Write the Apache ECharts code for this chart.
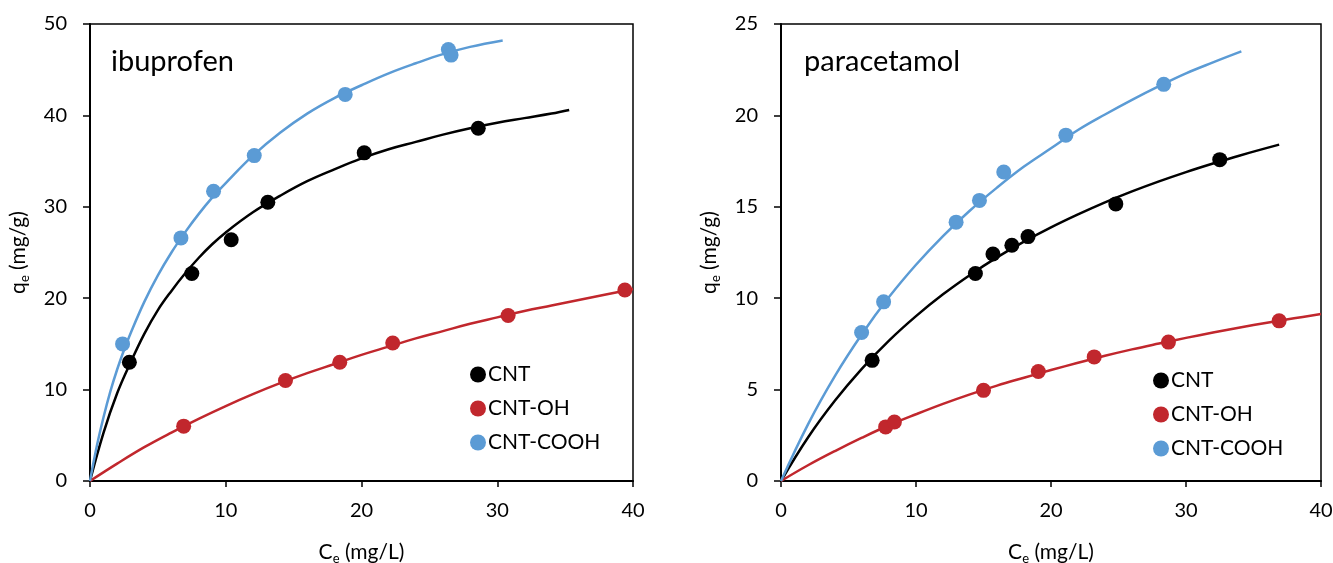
<!DOCTYPE html>
<html><head><meta charset="utf-8">
<script src="https://cdn.jsdelivr.net/npm/echarts@6/dist/echarts.min.js"></script>
<style>html,body{margin:0;padding:0;background:#fff}#c{width:1333px;height:563px}</style>
</head><body><div id="c"></div>
<script>
// ---- data ----
const xTicks = [0, 10, 20, 30, 40];
const ibuCNT = [[2.9,13.0],[7.5,22.7],[10.4,26.4],[13.1,30.5],[20.2,35.9],[28.6,38.6]];
const ibuOH = [[6.9,6.0],[14.4,11.0],[18.4,13.0],[22.3,15.1],[30.8,18.1],[39.4,20.9]];
const ibuCOOH = [[2.4,15.0],[6.7,26.6],[9.1,31.7],[12.1,35.6],[18.8,42.3],[26.4,47.2],[26.6,46.6]];
const ibuCNTfit = [[0,0],[1,5.3],[2,9.6],[3,13.0],[4,16.1],[5,18.7],[6,20.8],[7,22.7],[8,24.4],[9,25.9],[10,27.2],[12,29.4],[14,31.2],[16,32.8],[18,34.1],[20,35.3],[22,36.3],[24,37.1],[26,37.9],[28,38.6],[30,39.2],[32,39.7],[34,40.2],[35.3,40.6]];
const ibuCOOHfit = [[0,0],[0.5,3.8],[1,7.0],[1.5,9.8],[2,12.2],[2.5,14.3],[3,16.2],[4,19.6],[5,22.5],[6,25.0],[7,27.2],[8,29.2],[9,31.0],[10,32.6],[12,35.6],[14,38.1],[16,40.2],[18,41.9],[20,43.3],[22,44.6],[24,45.7],[26,46.7],[28,47.5],[30.4,48.2]];
const ibuOHfit = [[0,0],[2,1.9],[4,3.7],[6,5.3],[8,6.8],[10,8.2],[12,9.5],[14,10.7],[16,11.8],[18,12.8],[20,13.8],[22,14.7],[24,15.6],[26,16.4],[28,17.2],[30,17.9],[32,18.6],[34,19.2],[36,19.8],[38,20.4],[40,21.0]];

const paraCNT = [[6.75,6.6],[14.4,11.35],[15.7,12.42],[17.1,12.9],[18.3,13.37],[24.8,15.16],[32.5,17.58]];
const paraOH = [[7.75,2.96],[8.4,3.23],[15.0,4.96],[19.06,5.99],[23.2,6.79],[28.7,7.6],[36.9,8.76]];
const paraCOOH = [[5.97,8.12],[7.6,9.8],[12.97,14.16],[14.7,15.35],[16.5,16.9],[21.1,18.92],[28.35,21.7]];
const paraCNTfit = [[0,0],[2,2.38],[4,4.4],[6,6.15],[8,7.68],[10,9.02],[12,10.21],[14,11.27],[16,12.23],[18,13.09],[20,13.87],[22,14.58],[24,15.24],[26,15.84],[28,16.39],[30,16.9],[32,17.37],[34,17.81],[36.9,18.4]];
const paraCOOHfit = [[0,0],[2,3.1],[4,5.75],[6,8.04],[8,10.06],[10,11.83],[12,13.4],[14,14.8],[16,16.05],[18,17.2],[20,18.2],[22,19.2],[24,20.05],[26,20.85],[28,21.6],[30,22.3],[32,22.9],[34.1,23.5]];
const paraOHfit = [[0,0],[2,0.86],[4,1.64],[6,2.37],[8,3.05],[10,3.65],[12,4.22],[14,4.74],[16,5.22],[18,5.65],[20,6.07],[22,6.47],[24,6.85],[26,7.2],[28,7.52],[30,7.83],[32,8.12],[34,8.4],[36,8.66],[38,8.9],[40,9.13]];

const names = ['CNT', 'CNT-OH', 'CNT-COOH'];
const colors = ['#000000', '#C1272D', '#5B9BD5'];
const titles = ['ibuprofen', 'paracetamol'];
// -------------------------------------

const FONT = 'Lato';
const chart = echarts.init(document.getElementById('c'));
const nameRich = { a: { fontSize: 21, fontFamily: FONT, color: '#000' }, s: { fontSize: 13, fontFamily: FONT, color: '#000', padding: [13, 0, 0, 0] } };

function xAxis(gi) {
  return {
    type: 'value', gridIndex: gi, min: 0, max: 40, interval: 10,
    name: '{a|C}{s|e}{a| (mg/L)}', nameLocation: 'middle', nameGap: 58,
    nameTextStyle: { rich: nameRich },
    axisLine: { show: true, lineStyle: { color: '#000', width: 2 } },
    axisTick: { show: true, inside: false, length: 6, lineStyle: { color: '#000', width: 1.5 } },
    axisLabel: { fontSize: 20, fontFamily: FONT, color: '#000', margin: 20 },
    splitLine: { show: false }
  };
}
function yAxis(gi, max, interval) {
  return {
    type: 'value', gridIndex: gi, min: 0, max: max, interval: interval,
    name: '{a|q}{s|e}{a| (mg/g)}', nameLocation: 'middle', nameRotate: 90, nameGap: 59,
    nameTextStyle: { rich: nameRich },
    axisLine: { show: true, lineStyle: { color: '#000', width: 2 } },
    axisTick: { show: true, inside: false, length: 7, lineStyle: { color: '#000', width: 1.5 } },
    axisLabel: { fontSize: 20, fontFamily: FONT, color: '#000', margin: 23 },
    splitLine: { show: false }
  };
}
function fit(gi, data, ci) {
  return { type: 'line', name: names[ci] + ' fit', xAxisIndex: gi, yAxisIndex: gi, data: data,
    smooth: 0.4, showSymbol: false, symbol: 'none', silent: true, z: 2,
    lineStyle: { color: colors[ci], width: 2.5 } };
}
function pts(gi, data, ci) {
  return { type: 'scatter', name: names[ci], xAxisIndex: gi, yAxisIndex: gi, data: data,
    symbol: 'circle', symbolSize: 15, z: 3, itemStyle: { color: colors[ci], opacity: 1 } };
}

const option = {
  animation: false,
  backgroundColor: '#fff',
  grid: [
    { left: 90, right: 700, top: 24, bottom: 82, containLabel: false, outerBoundsMode: 'none', show: true, borderColor: '#000', borderWidth: 1.5, backgroundColor: 'transparent' },
    { left: 781, right: 12, top: 24, bottom: 82, containLabel: false, outerBoundsMode: 'none', show: true, borderColor: '#000', borderWidth: 1.5, backgroundColor: 'transparent' }
  ],
  title: [
    { text: titles[0], left: 106, top: 42, textStyle: { fontSize: 29, fontWeight: 'normal', fontFamily: FONT, color: '#000' } },
    { text: titles[1], left: 799, top: 42, textStyle: { fontSize: 29, fontWeight: 'normal', fontFamily: FONT, color: '#000' } }
  ],
  legend: [
    { data: names, orient: 'vertical', left: 465, top: 359, itemGap: 13, itemWidth: 16, itemHeight: 16, icon: 'circle',
      textStyle: { fontSize: 21, fontFamily: FONT, color: '#000', padding: [0, 0, 0, -3] } },
    { data: names, orient: 'vertical', left: 1148, top: 365, itemGap: 13, itemWidth: 16, itemHeight: 16, icon: 'circle',
      textStyle: { fontSize: 21, fontFamily: FONT, color: '#000', padding: [0, 0, 0, -3] } }
  ],
  xAxis: [xAxis(0), xAxis(1)],
  yAxis: [yAxis(0, 50, 10), yAxis(1, 25, 5)],
  series: [
    fit(0, ibuCNTfit, 0), fit(0, ibuOHfit, 1), fit(0, ibuCOOHfit, 2),
    pts(0, ibuCNT, 0), pts(0, ibuOH, 1), pts(0, ibuCOOH, 2),
    fit(1, paraCNTfit, 0), fit(1, paraOHfit, 1), fit(1, paraCOOHfit, 2),
    pts(1, paraCNT, 0), pts(1, paraOH, 1), pts(1, paraCOOH, 2)
  ]
};
chart.setOption(option);
</script></body></html>
